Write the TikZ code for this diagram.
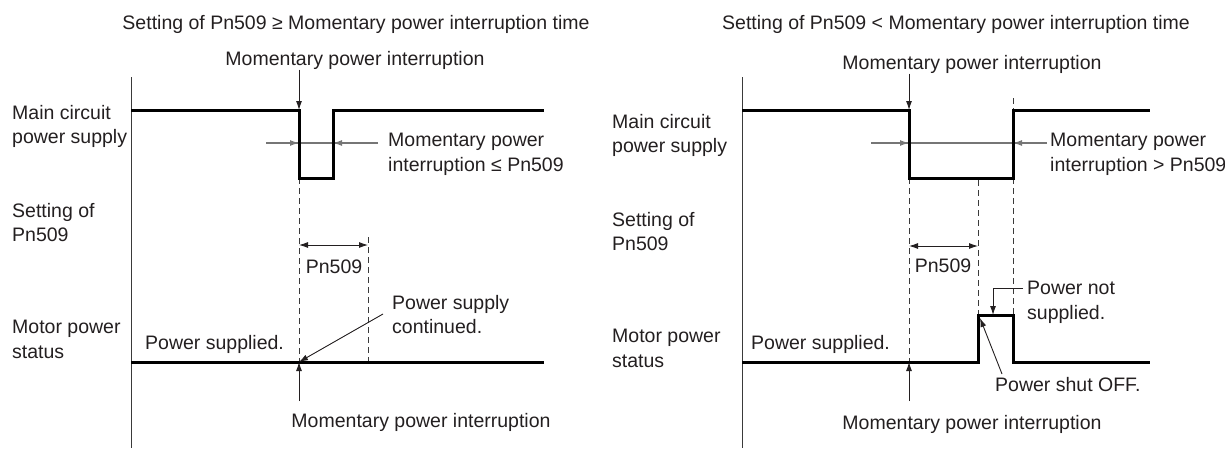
\documentclass[tikz,border=0pt]{standalone}
\usepackage{fontspec}
\setmainfont{Liberation Sans}
\usepackage{tikz}
\usetikzlibrary{arrows.meta,positioning,calc}
\definecolor{tcText}{HTML}{231F20}
\definecolor{tcAxis}{HTML}{3A3A3A}
\definecolor{tcGap}{HTML}{767676}

\begin{document}
\begin{tikzpicture}[x=1pt, y=-1pt,
  lbl/.style={font=\fontsize{19.5}{24.5}\selectfont, text=tcText, inner sep=0pt, align=left},
  sig/.style={line width=3pt, color=black, line join=miter},
  axisline/.style={line width=1pt, color=tcAxis},
  guide/.style={dash pattern=on 6pt off 4pt, line width=0.9pt, color=tcAxis},
  arr/.style={-{Latex[length=9pt, width=6pt]}, line width=0.9pt, color=tcText},
  dimarr/.style={{Latex[length=9pt, width=6pt]}-{Latex[length=9pt, width=6pt]}, line width=0.9pt, color=tcText},
  gapline/.style={line width=1.3pt, color=tcGap},
  gaptip/.style={-{Latex[length=9pt, width=6pt]}, line width=1.3pt, color=tcGap}
]
  \useasboundingbox (0,0) rectangle (1225,450);

  % ---- left: Pn509 >= interruption time
  \node[lbl, anchor=north] (titleL) at (356,15) {Setting of Pn509 ≥ Momentary power interruption time};
  \node[lbl, anchor=north] (mpiTL) at (355,51) {Momentary power interruption};
  \node[lbl, anchor=north] (mpiBL) at (421,413) {Momentary power interruption};
  \node[lbl, anchor=north west] (mainL) at (12,105) {Main circuit\\power supply};
  \node[lbl, anchor=north west] (setL) at (12,203) {Setting of\\Pn509};
  \node[lbl, anchor=north west] (motL) at (12,320) {Motor power\\status};
  \node[lbl, anchor=north west] (gapL) at (388,133) {Momentary power\\interruption ≤ Pn509};
  \node[lbl, anchor=north west] (supL) at (145,335) {Power supplied.};
  \node[lbl, anchor=north west] (contL) at (392,295) {Power supply\\continued.};
  \node[lbl] (pnL) at (334,267) {Pn509};

  \coordinate (lTop) at (131,77);
  \coordinate (lBot) at (131,448);
  \coordinate (lDn) at (299,110);
  \coordinate (lUp) at (333,110);
  \coordinate (lLow) at (299,178);
  \coordinate (lEnd) at (368,237);
  \coordinate (lMot) at (299,362);
  \coordinate (lArrL) at (266,143);
  \coordinate (lArrR) at (378,143);
  \coordinate (lFoot) at (299,401);
  \coordinate (lLead) at (383,314);

  \draw[axisline] (lTop) -- (lBot);
  \draw[guide] (lLow) -- (lMot);
  \draw[guide] (lEnd) -- (lEnd |- lMot);
  \draw[gapline] (lArrL) -- (lArrR);
  \draw[gaptip] (lArrL) -- (lArrL -| lDn);
  \draw[gaptip] (lArrR) -- (lArrR -| lUp);
  \draw[sig] (lTop |- lDn) -- (lDn) -- (lLow) -- (lLow -| lUp) -- (lUp) -- (544,110);
  \draw[sig] (lTop |- lMot) -- (544,362);
  \draw[arr] (mpiTL.south -| lDn) -- (lDn);
  \draw[dimarr] (lDn |- 0,245) -- (lEnd |- 0,245);
  \draw[arr] (lFoot) -- (lMot);
  \draw[arr] (lLead) -- (lMot);

  % ---- right: Pn509 < interruption time
  \node[lbl, anchor=north] (titleR) at (956,15) {Setting of Pn509 < Momentary power interruption time};
  \node[lbl, anchor=north] (mpiTR) at (972,55) {Momentary power interruption};
  \node[lbl, anchor=north] (mpiBR) at (972,415) {Momentary power interruption};
  \node[lbl, anchor=north west] (mainR) at (612,114) {Main circuit\\power supply};
  \node[lbl, anchor=north west] (setR) at (612,212) {Setting of\\Pn509};
  \node[lbl, anchor=north west] (motR) at (612,329) {Motor power\\status};
  \node[lbl, anchor=north west] (gapR) at (1050,133) {Momentary power\\interruption > Pn509};
  \node[lbl, anchor=north west] (supR) at (751,335) {Power supplied.};
  \node[lbl, anchor=north west] (notR) at (1027,281) {Power not\\supplied.};
  \node[lbl, anchor=north west] (offR) at (995,377) {Power shut OFF.};
  \node[lbl] (pnR) at (943,266) {Pn509};

  \coordinate (rTop) at (742,77);
  \coordinate (rBot) at (742,448);
  \coordinate (rDn) at (909,110);
  \coordinate (rUp) at (1013,110);
  \coordinate (rLow) at (909,178);
  \coordinate (rSet) at (978,180);
  \coordinate (rMot) at (909,362);
  \coordinate (rOff) at (978,362);
  \coordinate (rOffTop) at (978,315);
  \coordinate (rOnTop) at (1013,315);
  \coordinate (rArrL) at (871,143);
  \coordinate (rArrR) at (1047,143);
  \coordinate (rFoot) at (909,401);
  \coordinate (rNot) at (1023,288);
  \coordinate (rNotTip) at (993,315);
  \coordinate (rLead) at (1002,374);

  \draw[axisline] (rTop) -- (rBot);
  \draw[guide] (rLow) -- (rMot);
  \draw[guide] (rSet) -- (rOffTop);
  \draw[guide] (1013,98) -- (rOnTop);
  \draw[gapline] (rArrL) -- (rArrR);
  \draw[gaptip] (rArrL) -- (rArrL -| rDn);
  \draw[gaptip] (rArrR) -- (rArrR -| rUp);
  \draw[sig] (rTop |- rDn) -- (rDn) -- (rLow) -- (rLow -| rUp) -- (rUp) -- (1150,110);
  \draw[sig] (rTop |- rMot) -- (rOff) -- (rOffTop) -- (rOnTop) -- (rOnTop |- rMot) -- (1150,362);
  \draw[arr] (mpiTR.south -| rDn) -- (rDn);
  \draw[dimarr] (rDn |- 0,246) -- (rSet |- 0,246);
  \draw[arr] (rFoot) -- (rMot);
  \draw[arr] (rNot) -- (rNot -| rNotTip) -- (rNotTip);
  \draw[arr] (rLead) -- ($(rOffTop)+(2,3)$);
\end{tikzpicture}
\end{document}
